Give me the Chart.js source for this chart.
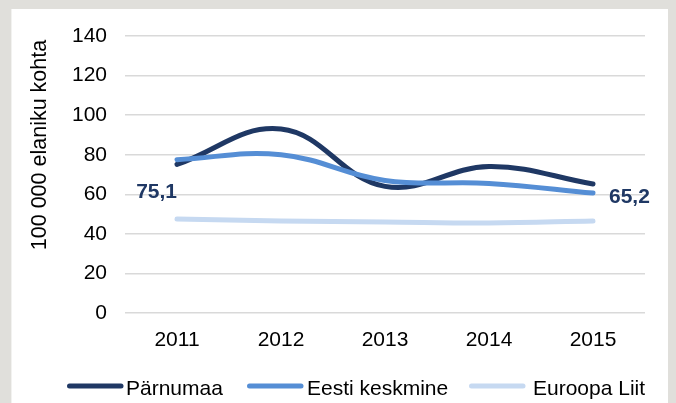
<!DOCTYPE html>
<html>
<head>
<meta charset="utf-8">
<script src="https://cdn.jsdelivr.net/npm/chart.js@4/dist/chart.umd.min.js"></script>
<style>
  html, body { margin: 0; padding: 0; background: #e0dfdb; width: 676px; height: 403px; overflow: hidden; }
  #panel { position: absolute; left: 11px; top: 9px; width: 656px; height: 394px; background: #ffffff; border-left: 1px solid #f2f2f0; }
  #wrap { position: absolute; left: 0; top: 0; width: 676px; height: 403px; }
</style>
</head>
<body>
<div id="panel"></div>
<div id="wrap"><canvas id="c" width="676" height="403"></canvas></div>
<script>
const years = ['2011', '2012', '2013', '2014', '2015'];
const seriesNames = ['Pärnumaa', 'Eesti keskmine', 'Euroopa Liit'];
const parnumaa = [75.1, 93, 64, 74, 65.2];
const eesti = [77.5, 80, 67, 65.5, 60.6];
const euroopa = [47.5, 46.5, 46, 45.5, 46.5];
const yTicks = [0, 20, 40, 60, 80, 100, 120, 140];
const labelledPoints = [0, 4]; // Pärnumaa points with value labels
const yTitle = '100 000 elaniku kohta';

const colors = ['#1f3864', '#558ed5', '#c6d9f1'];
const FONT = '"Liberation Sans", Arial, sans-serif';

const valueLabels = {
  id: 'valueLabels',
  afterDatasetsDraw(chart) {
    const ctx = chart.ctx;
    const meta = chart.getDatasetMeta(0);
    ctx.save();
    ctx.font = 'bold 21px ' + FONT;
    ctx.fillStyle = colors[0];
    ctx.textBaseline = 'middle';
    labelledPoints.forEach((i, k) => {
      const p = meta.data[i];
      const txt = String(chart.data.datasets[0].data[i]).replace('.', ',');
      if (k === 0) {
        ctx.textAlign = 'right';
        ctx.fillText(txt, p.x, p.y + 28);
      } else {
        ctx.textAlign = 'left';
        ctx.fillText(txt, p.x + 16, p.y + 13);
      }
    });
    ctx.restore();
  }
};

const axisTitle = {
  id: 'axisTitle',
  afterDraw(chart) {
    const ctx = chart.ctx;
    ctx.save();
    ctx.translate(40.5, 145);
    ctx.rotate(-Math.PI / 2);
    ctx.font = '21.5px ' + FONT;
    ctx.fillStyle = '#000';
    ctx.textAlign = 'center';
    ctx.textBaseline = 'middle';
    ctx.fillText(yTitle, 0, 0);
    ctx.restore();
  }
};

const customLegend = {
  id: 'customLegend',
  afterDraw(chart) {
    const ctx = chart.ctx;
    const swatchX = [67, 247, 469];
    const textX = [126, 307, 533];
    ctx.save();
    ctx.font = '21px ' + FONT;
    ctx.textBaseline = 'middle';
    ctx.textAlign = 'left';
    chart.data.datasets.forEach((ds, i) => {
      ctx.strokeStyle = ds.borderColor;
      ctx.lineWidth = 5;
      ctx.lineCap = 'round';
      ctx.beginPath();
      ctx.moveTo(swatchX[i] + 2.5, 386);
      ctx.lineTo(swatchX[i] + 54, 386);
      ctx.stroke();
      ctx.fillStyle = '#000';
      ctx.fillText(ds.label, textX[i], 389);
    });
    ctx.restore();
  }
};

new Chart(document.getElementById('c'), {
  type: 'line',
  data: {
    labels: years,
    datasets: [
      { label: seriesNames[0], data: parnumaa, borderColor: colors[0], backgroundColor: colors[0], order: 3 },
      { label: seriesNames[1], data: eesti, borderColor: colors[1], backgroundColor: colors[1], order: 2 },
      { label: seriesNames[2], data: euroopa, borderColor: colors[2], backgroundColor: colors[2], order: 1 }
    ]
  },
  options: {
    responsive: false,
    animation: false,
    events: [],
    layout: { padding: { left: 12, right: 31, top: 36, bottom: 0 } },
    elements: {
      line: { borderWidth: 5, tension: 0.4, borderCapStyle: 'round', fill: false },
      point: { radius: 0 }
    },
    plugins: {
      legend: { display: false },
      tooltip: { enabled: false }
    },
    scales: {
      x: {
        offset: true,
        grid: { display: false, drawTicks: false },
        border: { display: false },
        ticks: { font: { family: FONT, size: 21 }, color: '#000', padding: 15, maxRotation: 0 },
        afterFit(s) { s.height = 90; }
      },
      y: {
        min: 0,
        max: 140,
        afterBuildTicks(s) { s.ticks = yTicks.map(v => ({ value: v })); },
        grid: { color: '#d9d9d9', lineWidth: 1.5, drawTicks: false },
        border: { display: false },
        ticks: { font: { family: FONT, size: 21 }, color: '#000', padding: 18 },
        title: { display: false },
        afterFit(s) { s.width = 113; }
      }
    }
  },
  plugins: [valueLabels, axisTitle, customLegend]
});
</script>
</body>
</html>
